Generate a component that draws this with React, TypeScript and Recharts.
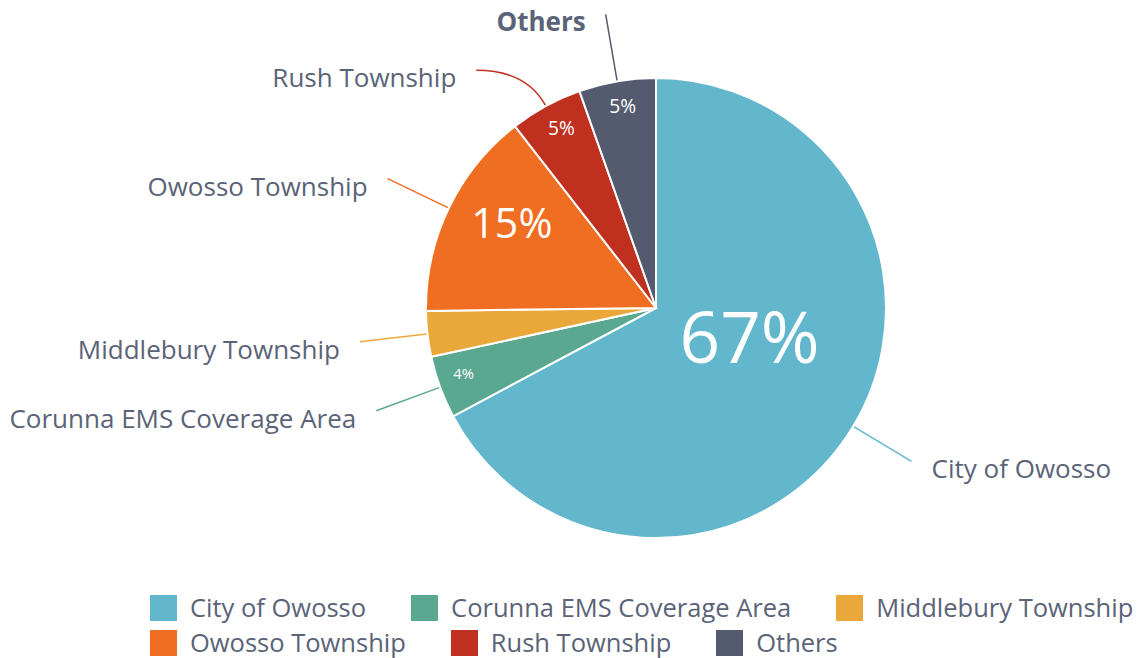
import React from 'react'
import { PieChart, Pie, Cell, Legend } from 'recharts'

const categories = [
  'City of Owosso',
  'Corunna EMS Coverage Area',
  'Middlebury Township',
  'Owosso Township',
  'Rush Township',
  'Others',
]
const shares = [67.2, 4.4, 3.2, 14.7, 5.1, 5.4]
const COLORS = ['#62B7CC', '#5BA891', '#EBA83A', '#F06E22', '#C0301F', '#545B6E']
const boldLabels = ['Others']
const legendRows = [3, 3]

const TEXT = '#5A6377'
const FONT = '"Open Sans", "Noto Sans", sans-serif'
const CX = 656
const CY = 308
const R = 230
const LABEL_R = R + 68
const MIN_GAP = 56
const RAD = Math.PI / 180

const data = categories.map((name, i) => ({ name, value: shares[i] }))

// label end points sit on an outer ring, pushed apart vertically on each side
function layoutLabels() {
  const total = shares.reduce((a, b) => a + b, 0)
  let cum = 0
  const ends = shares.map((v) => {
    const a = ((cum + v / 2) / total) * 360
    cum += v
    const side = Math.sin(a * RAD) >= 0 ? 1 : -1
    return { y: CY - LABEL_R * Math.cos(a * RAD), side, x: 0 }
  })
  for (const side of [1, -1]) {
    const idx = ends.map((e, i) => i).filter((i) => ends[i].side === side)
    idx.sort((a, b) => ends[a].y - ends[b].y)
    for (let k = 1; k < idx.length; k++) {
      const prev = ends[idx[k - 1]].y
      if (ends[idx[k]].y - prev < MIN_GAP) ends[idx[k]].y = prev + MIN_GAP
    }
  }
  ends.forEach((e) => {
    const dy = Math.max(-LABEL_R, Math.min(LABEL_R, e.y - CY))
    e.x = CX + e.side * Math.sqrt(LABEL_R * LABEL_R - dy * dy)
  })
  return ends
}
const labelEnds = layoutLabels()

const polar = (cx: number, cy: number, r: number, angle: number) => ({
  x: cx + Math.cos(-angle * RAD) * r,
  y: cy + Math.sin(-angle * RAD) * r,
})

function renderLabel(props: any) {
  const { cx, cy, midAngle, outerRadius, percent, index, name, fill } = props
  const pct = Math.round(percent * 100)
  const end = labelEnds[index]
  const a = polar(cx, cy, outerRadius + 1, midAngle)
  const dir = { x: Math.cos(-midAngle * RAD), y: Math.sin(-midAngle * RAD) }
  let ctrlX = a.x
  if (Math.abs(dir.y) > 0.01) {
    const t = (end.y - a.y) / dir.y
    ctrlX = a.x + dir.x * Math.max(0, t)
  }
  const lo = Math.min(a.x, end.x)
  const hi = Math.max(a.x, end.x)
  ctrlX = Math.max(lo, Math.min(hi, ctrlX))
  const path = `M${a.x},${a.y} Q${ctrlX},${end.y} ${end.x},${end.y}`

  // percentage size grows with the slice
  const fs = 20 * Math.log(pct) - 13
  const inner = polar(cx, cy, outerRadius - 1.7 * fs, midAngle)

  return (
    <g>
      <path d={path} stroke={fill} strokeWidth={1.5} fill="none" />
      <text
        x={end.x + end.side * 20}
        y={end.y + 7}
        textAnchor={end.side > 0 ? 'start' : 'end'}
        dominantBaseline="central"
        fill={TEXT}
        fontSize={26}
        fontFamily={FONT}
        fontWeight={boldLabels.includes(name) ? 700 : 400}
      >
        {name}
      </text>
      {pct >= 4 && (
        <text
          x={inner.x}
          y={inner.y - 0.4 * fs}
          textAnchor="middle"
          dominantBaseline="central"
          fill="#ffffff"
          fontSize={fs}
          fontFamily={FONT}
        >
          {pct}%
        </text>
      )}
    </g>
  )
}

function renderLegend() {
  let start = 0
  const rows = legendRows.map((n) => {
    const row = categories.slice(start, start + n).map((c, k) => ({ name: c, color: COLORS[start + k] }))
    start += n
    return row
  })
  return (
    <div style={{ fontFamily: FONT, fontSize: 25.5, color: TEXT, lineHeight: '35px' }}>
      {rows.map((row, r) => (
        <div key={r} style={{ display: 'flex', columnGap: 45, whiteSpace: 'nowrap' }}>
          {row.map((item) => (
            <div key={item.name} style={{ display: 'flex', alignItems: 'center' }}>
              <span
                style={{
                  display: 'inline-block',
                  width: 27,
                  height: 26,
                  background: item.color,
                  marginRight: 13,
                }}
              />
              <span>{item.name}</span>
            </div>
          ))}
        </div>
      ))}
    </div>
  )
}

export default function App() {
  return (
    <div style={{ width: 1148, height: 658, background: '#fff' }}>
      <style>{'body{margin:0}'}</style>
      <PieChart width={1148} height={658} margin={{ top: 0, right: 0, bottom: 0, left: 0 }}>
        <Pie
          data={data}
          dataKey="value"
          nameKey="name"
          cx={CX}
          cy={CY}
          outerRadius={R}
          startAngle={90}
          endAngle={-270}
          stroke="#ffffff"
          strokeWidth={2}
          label={renderLabel}
          labelLine={false}
          isAnimationActive={false}
        >
          {data.map((entry, index) => (
            <Cell key={`cell-${index}`} fill={COLORS[index]} />
          ))}
        </Pie>
        <Legend
          content={renderLegend}
          wrapperStyle={{ left: 150, top: 590, width: 998 }}
        />
      </PieChart>
    </div>
  )
}
